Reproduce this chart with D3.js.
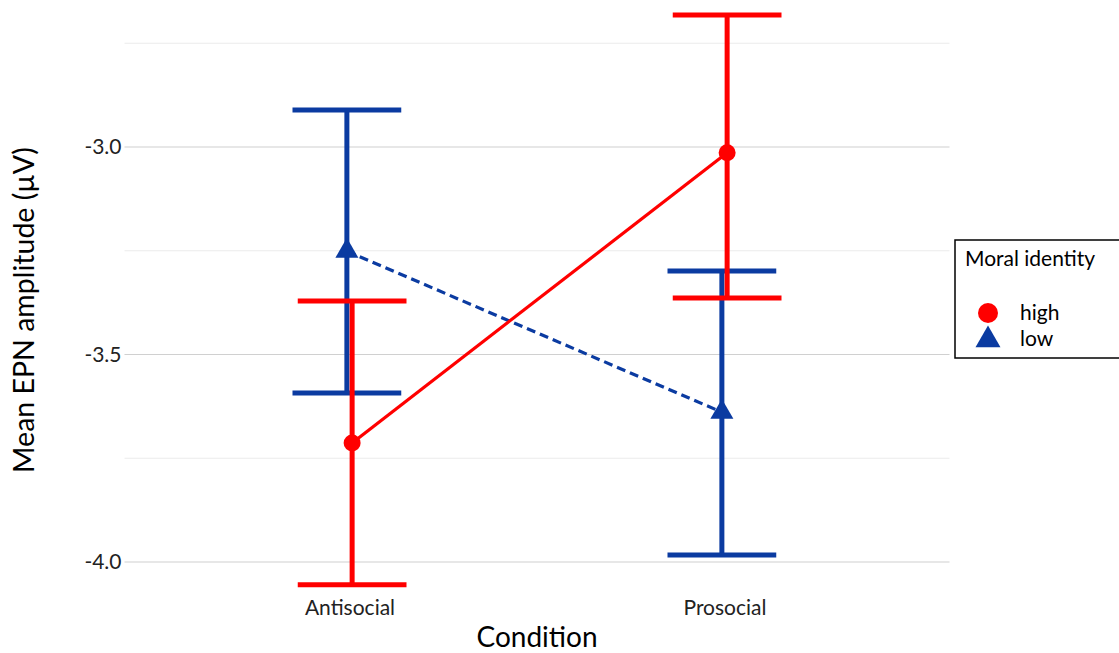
<!doctype html>
<meta charset="utf-8">
<script src="https://d3js.org/d3.v7.min.js"></script>
<style>
  body { margin: 0; background: #fff; }
  text { font-family: Lato, "Open Sans", sans-serif; }
</style>
<body>
<svg width="1119" height="653"></svg>
<script>
  // values
  var conditions = ["Antisocial", "Prosocial"];
  var groups = ["high", "low"];
  var highMean = [-3.713, -3.014];
  var highLower = [-4.055, -3.364];
  var highUpper = [-3.371, -2.682];
  var lowMean = [-3.251, -3.639];
  var lowLower = [-3.593, -3.983];
  var lowUpper = [-2.911, -3.299];
  var majorTicks = [-4.0, -3.5, -3.0];
  var minorTicks = [-3.75, -3.25, -2.75];

  var colors = { high: "#ff0000", low: "#0b3ba1" };

  var svg = d3.select("svg");

  var x = d3.scalePoint().domain(conditions).range([124.5, 949.5]).padding(0.6);
  var y = d3.scaleLinear().domain([-4.1, -2.65]).range([603.5, 1.75]);

  var step = x.step();
  var dodge = { high: step * 0.007, low: -step * 0.007 };
  var capHalf = step * 0.145;

  var series = [
    { key: "low", mean: lowMean, lower: lowLower, upper: lowUpper },
    { key: "high", mean: highMean, lower: highLower, upper: highUpper }
  ];

  // gridlines
  var grid = svg.append("g");
  grid.selectAll(".minor")
    .data(minorTicks)
    .enter().append("line")
    .attr("x1", 124.5).attr("x2", 949.5)
    .attr("y1", function (d) { return y(d); })
    .attr("y2", function (d) { return y(d); })
    .style("stroke", "#ebebeb")
    .style("stroke-width", 1);
  grid.selectAll(".major")
    .data(majorTicks)
    .enter().append("line")
    .attr("x1", 124.5).attr("x2", 949.5)
    .attr("y1", function (d) { return y(d); })
    .attr("y2", function (d) { return y(d); })
    .style("stroke", "#d0d0d0")
    .style("stroke-width", 1.2);

  // y tick labels
  svg.append("g")
    .attr("transform", "translate(124.5,0)")
    .call(d3.axisLeft(y).tickValues(majorTicks).tickSize(0).tickPadding(3)
      .tickFormat(d3.format(".1f")))
    .call(function (g) { g.select(".domain").remove(); })
    .selectAll("text")
    .attr("font-size", "21px")
    .attr("fill", "#222")
    .style("font-family", "Lato, sans-serif")
    .text(function (d) { return d3.format(".1f")(d).replace("−", "-"); });

  // x tick labels
  svg.append("g")
    .attr("transform", "translate(0,592)")
    .call(d3.axisBottom(x).tickSize(0).tickPadding(8))
    .call(function (g) { g.select(".domain").remove(); })
    .selectAll("text")
    .attr("font-size", "21px")
    .attr("fill", "#222")
    .style("font-family", "Lato, sans-serif");

  // axis titles
  svg.append("text")
    .attr("x", 537).attr("y", 647)
    .attr("text-anchor", "middle")
    .attr("font-size", "28px")
    .text("Condition");

  svg.append("text")
    .attr("transform", "translate(34,310) rotate(-90)")
    .attr("text-anchor", "middle")
    .attr("font-size", "28.5px")
    .text("Mean EPN amplitude (µV)");

  // error bars
  series.forEach(function (s) {
    var g = svg.append("g").style("stroke", colors[s.key]).style("stroke-width", 5);
    conditions.forEach(function (c, i) {
      var cx = x(c) + dodge[s.key];
      g.append("line")
        .attr("x1", cx).attr("x2", cx)
        .attr("y1", y(s.lower[i])).attr("y2", y(s.upper[i]));
      g.append("line")
        .attr("x1", cx - capHalf).attr("x2", cx + capHalf)
        .attr("y1", y(s.lower[i])).attr("y2", y(s.lower[i]));
      g.append("line")
        .attr("x1", cx - capHalf).attr("x2", cx + capHalf)
        .attr("y1", y(s.upper[i])).attr("y2", y(s.upper[i]));
    });
  });

  // connecting lines
  series.forEach(function (s) {
    var line = d3.line()
      .x(function (d, i) { return x(conditions[i]) + dodge[s.key]; })
      .y(function (d) { return y(d); });
    svg.append("path")
      .datum(s.mean)
      .attr("d", line)
      .style("fill", "none")
      .style("stroke", colors[s.key])
      .style("stroke-width", 3.2)
      .style("stroke-dasharray", s.key == "low" ? "9,5" : null);
  });

  // points
  var tri = d3.symbol().type(d3.symbolTriangle).size(230);
  series.forEach(function (s) {
    conditions.forEach(function (c, i) {
      var cx = x(c) + dodge[s.key];
      if (s.key == "high") {
        svg.append("circle")
          .attr("cx", cx).attr("cy", y(s.mean[i])).attr("r", 8.5)
          .style("fill", colors.high);
      } else {
        svg.append("path")
          .attr("d", tri)
          .attr("transform", "translate(" + cx + "," + y(s.mean[i]) + ")")
          .style("fill", colors.low);
      }
    });
  });

  // legend
  var legend = svg.append("g").attr("transform", "translate(955,240)");
  legend.append("rect")
    .attr("x", 0).attr("y", 0)
    .attr("width", 170).attr("height", 118)
    .style("fill", "#fff")
    .style("stroke", "#000")
    .style("stroke-width", 1.5);
  legend.append("text")
    .attr("x", 10).attr("y", 26)
    .attr("font-size", "21px")
    .text("Moral identity");
  groups.forEach(function (k, i) {
    var ly = 73 + i * 26;
    if (k == "high") {
      legend.append("circle").attr("cx", 33).attr("cy", ly).attr("r", 10)
        .style("fill", colors.high);
    } else {
      legend.append("path")
        .attr("d", d3.symbol().type(d3.symbolTriangle).size(270))
        .attr("transform", "translate(33," + (ly + 1) + ")")
        .style("fill", colors.low);
    }
    legend.append("text")
      .attr("x", 65).attr("y", ly + 7)
      .attr("font-size", "21px")
      .text(k);
  });
</script>
</body>
